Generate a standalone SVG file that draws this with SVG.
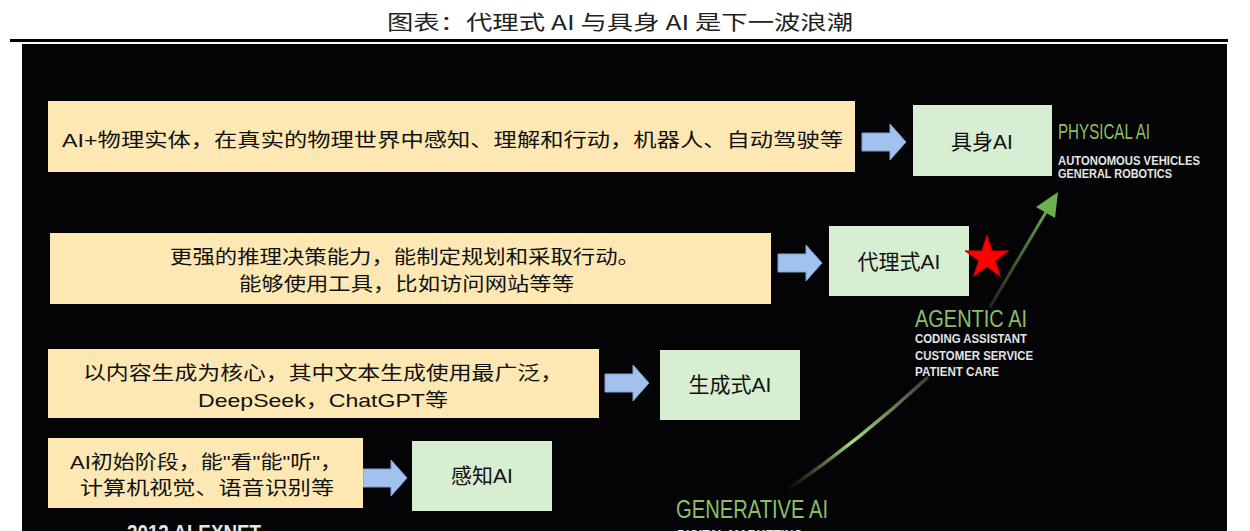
<svg xmlns="http://www.w3.org/2000/svg" width="1250" height="531" viewBox="0 0 1250 531">
<defs>
<style>
.ybox{fill:#FDE8B4}
.gbox{fill:#D8EED2}
.arr{fill:#A3C1EE;stroke:#7E9FD0;stroke-width:1}
.cn{font-family:"Liberation Sans","Noto Sans CJK SC",sans-serif;font-size:19px;fill:#111}
.lbl{font-family:"Liberation Sans","Noto Sans CJK SC",sans-serif;font-size:21px;fill:#111;text-anchor:middle}
.gt{font-family:"Liberation Sans",sans-serif;fill:#8CBF64}
.wt{font-family:"Liberation Sans",sans-serif;fill:#E4E4E4;font-weight:bold}
</style>
<path id="bluearrow" d="M0,9 H28 V0 L44,18 L28,36 V27 H0 Z"/>
<linearGradient id="curveGrad" x1="787" y1="490" x2="927" y2="378" gradientUnits="userSpaceOnUse">
<stop offset="0" stop-color="#6A9A50" stop-opacity="0"/>
<stop offset="0.45" stop-color="#A6E07A" stop-opacity="1"/>
<stop offset="1" stop-color="#8A9A80" stop-opacity="0.4"/>
</linearGradient>
<linearGradient id="lineGrad" x1="990" y1="308" x2="1050" y2="205" gradientUnits="userSpaceOnUse">
<stop offset="0" stop-color="#5E7F4C" stop-opacity="0.3"/>
<stop offset="1" stop-color="#6DB14A"/>
</linearGradient>
</defs>

<text x="620" y="30" font-family="'Noto Sans CJK SC',sans-serif" font-size="20" fill="#222" text-anchor="middle" textLength="466" lengthAdjust="spacingAndGlyphs">图表：代理式 AI 与具身 AI 是下一波浪潮</text>
<rect x="10" y="39" width="1218" height="3" fill="#000"/>
<rect x="22" y="44" width="1205" height="487" fill="#040406"/>

<g id="connectors">
<use href="#bluearrow" class="arr" x="862" y="124"/>
<use href="#bluearrow" class="arr" x="778" y="245"/>
<use href="#bluearrow" class="arr" x="605" y="365"/>
<use href="#bluearrow" class="arr" x="363" y="460"/>
<path d="M787,490 Q860,440 927,378" fill="none" stroke="url(#curveGrad)" stroke-width="3.5" stroke-linecap="round"/>
<line x1="990" y1="307" x2="1049" y2="207" stroke="url(#lineGrad)" stroke-width="3"/>
<polygon points="1058,192 1036,207 1055,218" fill="#6DB14A"/>
</g>

<g id="node-physical-desc">
<rect class="ybox" x="48" y="101" width="807" height="71"/>
<text class="cn" x="62" y="147" font-size="20" textLength="781" lengthAdjust="spacingAndGlyphs">AI+物理实体，在真实的物理世界中感知、理解和行动，机器人、自动驾驶等</text>
</g>
<g id="node-physical">
<rect class="gbox" x="913" y="105" width="139" height="71"/>
<text class="lbl" x="982" y="149">具身AI</text>
</g>
<g id="label-physical">
<text class="gt" x="1058" y="139" font-size="22" textLength="92" lengthAdjust="spacingAndGlyphs">PHYSICAL AI</text>
<text class="wt" x="1058" y="165" font-size="13" textLength="142" lengthAdjust="spacingAndGlyphs">AUTONOMOUS VEHICLES</text>
<text class="wt" x="1058" y="178" font-size="13" textLength="114" lengthAdjust="spacingAndGlyphs">GENERAL ROBOTICS</text>
</g>

<g id="node-agentic-desc">
<rect class="ybox" x="50" y="233" width="721" height="71"/>
<text class="cn" x="170" y="264" textLength="470" lengthAdjust="spacingAndGlyphs">更强的推理决策能力，能制定规划和采取行动。</text>
<text class="cn" x="239" y="291" textLength="335" lengthAdjust="spacingAndGlyphs">能够使用工具，比如访问网站等等</text>
</g>
<g id="node-agentic">
<rect class="gbox" x="829" y="226" width="140" height="70"/>
<text class="lbl" x="899" y="269">代理式AI</text>
</g>
<g id="star">
<polygon points="987,235 992.2,250.9 1008.9,250.9 995.4,260.8 1000.5,276.6 987,266.8 973.5,276.6 978.6,260.8 965.1,250.9 981.8,250.9" fill="#FF0000" stroke="#C00000" stroke-width="1"/>
</g>
<g id="label-agentic">
<text class="gt" x="915" y="327" font-size="24" textLength="112" lengthAdjust="spacingAndGlyphs">AGENTIC AI</text>
<text class="wt" x="915" y="343" font-size="13" textLength="112" lengthAdjust="spacingAndGlyphs">CODING ASSISTANT</text>
<text class="wt" x="915" y="360" font-size="13" textLength="118" lengthAdjust="spacingAndGlyphs">CUSTOMER SERVICE</text>
<text class="wt" x="915" y="376" font-size="13" textLength="84" lengthAdjust="spacingAndGlyphs">PATIENT CARE</text>
</g>

<g id="node-generative-desc">
<rect class="ybox" x="48" y="349" width="551" height="69"/>
<text class="cn" x="83" y="380" textLength="480" lengthAdjust="spacingAndGlyphs">以内容生成为核心，其中文本生成使用最广泛，</text>
<text class="cn" x="198" y="407" font-size="20" textLength="250" lengthAdjust="spacingAndGlyphs">DeepSeek，ChatGPT等</text>
</g>
<g id="node-generative">
<rect class="gbox" x="660" y="350" width="140" height="70"/>
<text class="lbl" x="730" y="392">生成式AI</text>
</g>
<g id="label-generative">
<text class="gt" x="676" y="518" font-size="26" textLength="152" lengthAdjust="spacingAndGlyphs">GENERATIVE AI</text>
<text class="wt" x="677" y="540" font-size="14" textLength="126" lengthAdjust="spacingAndGlyphs">DIGITAL MARKETING</text>
</g>

<g id="node-perception-desc">
<rect class="ybox" x="48" y="438" width="315" height="70"/>
<text class="cn" x="70" y="469" font-size="20" textLength="272" lengthAdjust="spacingAndGlyphs">AI初始阶段，能"看"能"听"，</text>
<text class="cn" x="80" y="495" textLength="254" lengthAdjust="spacingAndGlyphs">计算机视觉、语音识别等</text>
</g>
<g id="node-perception">
<rect class="gbox" x="412" y="441" width="140" height="70"/>
<text class="lbl" x="482" y="483">感知AI</text>
</g>
<g id="label-alexnet">
<text class="wt" x="127" y="540" font-size="22" font-weight="normal" textLength="134" lengthAdjust="spacingAndGlyphs">2012 ALEXNET</text>
</g>
</svg>
